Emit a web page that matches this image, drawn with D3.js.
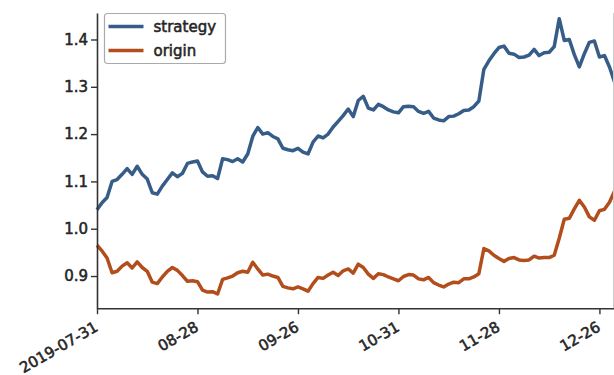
<!DOCTYPE html>
<html>
<head>
<meta charset="utf-8">
<script src="https://cdn.jsdelivr.net/npm/d3@7"></script>
<style>
  body { margin: 0; background: #fff; }
  text { font-family: "DejaVu Sans", sans-serif; fill: #262626; stroke: #262626; stroke-width: 0.55px; }
</style>
</head>
<body>
<div id="chart"></div>
<script>
// tick positions (trading day index) and their labels
var tickIndex = [0, 20, 40, 60, 80, 100];
var tickLabels = ["2019-07-31", "08-28", "09-26", "10-31", "11-28", "12-26"];
var yTicks = [0.9, 1.0, 1.1, 1.2, 1.3, 1.4];

var strategy = [
  1.040, 1.055, 1.066, 1.100, 1.104, 1.115, 1.127, 1.115, 1.132, 1.115,
  1.105, 1.076, 1.073, 1.090, 1.104, 1.118, 1.110, 1.117, 1.138, 1.141,
  1.143, 1.120, 1.111, 1.112, 1.106, 1.148, 1.146, 1.142, 1.148, 1.141,
  1.158, 1.195, 1.214, 1.200, 1.203, 1.195, 1.190, 1.170, 1.167, 1.165,
  1.170, 1.162, 1.158, 1.183, 1.196, 1.192, 1.200, 1.215, 1.227, 1.239,
  1.253, 1.237, 1.271, 1.280, 1.255, 1.251, 1.263, 1.258, 1.251, 1.247,
  1.245, 1.258, 1.259, 1.258, 1.248, 1.244, 1.248, 1.234, 1.230, 1.228,
  1.237, 1.238, 1.243, 1.250, 1.251, 1.258, 1.270, 1.337, 1.355, 1.370,
  1.383, 1.386, 1.371, 1.369, 1.362, 1.363, 1.367, 1.379, 1.366, 1.372,
  1.373, 1.385, 1.444, 1.398, 1.400, 1.368, 1.342, 1.370, 1.394, 1.397,
  1.363, 1.366, 1.342, 1.310
];

var origin = [
  0.965, 0.953, 0.938, 0.907, 0.910, 0.921, 0.928, 0.917, 0.930, 0.918,
  0.910, 0.887, 0.884, 0.898, 0.910, 0.918, 0.912, 0.901, 0.889, 0.890,
  0.888, 0.870, 0.866, 0.867, 0.862, 0.893, 0.896, 0.900, 0.907, 0.910,
  0.908, 0.929, 0.915, 0.902, 0.904, 0.900, 0.897, 0.878, 0.875, 0.873,
  0.877, 0.873, 0.868, 0.884, 0.897, 0.895, 0.902, 0.908, 0.901, 0.911,
  0.915, 0.906, 0.925, 0.918, 0.904, 0.895, 0.905, 0.903, 0.898, 0.894,
  0.890, 0.899, 0.903, 0.902, 0.894, 0.892, 0.897, 0.886, 0.881, 0.877,
  0.883, 0.887, 0.886, 0.894, 0.894, 0.898, 0.905, 0.958, 0.953, 0.944,
  0.937, 0.931, 0.937, 0.939, 0.934, 0.933, 0.934, 0.942, 0.938, 0.939,
  0.939, 0.944, 0.980, 1.020, 1.022, 1.042, 1.060, 1.046, 1.025, 1.018,
  1.038, 1.041, 1.056, 1.079
];

var svgWidth = 614;
var svgHeight = 375;

var margin = { top: 13, right: 0, bottom: 67, left: 97 };
var width = 517.5;
var height = 295.2;

var svg = d3.select("#chart")
  .append("svg")
  .attr("width", svgWidth)
  .attr("height", svgHeight);

var chartGroup = svg.append("g")
  .attr("transform", `translate(${margin.left}, ${margin.top})`);

// scales
var xScale = d3.scaleLinear()
  .domain([0, 103])
  .range([0, width]);

var yScale = d3.scaleLinear()
  .domain([0.832, 1.456])
  .range([height, 0]);

// lines
var line = d3.line()
  .x((d, i) => xScale(i))
  .y(d => yScale(d));

chartGroup.append("path")
  .datum(origin)
  .attr("fill", "none")
  .attr("stroke", "#b24d1c")
  .attr("stroke-width", 3.5)
  .attr("stroke-linejoin", "round")
  .attr("d", line);

chartGroup.append("path")
  .datum(strategy)
  .attr("fill", "none")
  .attr("stroke", "#365d88")
  .attr("stroke-width", 3.5)
  .attr("stroke-linejoin", "round")
  .attr("d", line);

// axes
var bottomAxis = d3.axisBottom(xScale)
  .tickValues(tickIndex)
  .tickFormat((d, i) => tickLabels[i])
  .tickSize(6)
  .tickSizeOuter(0);

var leftAxis = d3.axisLeft(yScale)
  .tickValues(yTicks)
  .tickFormat(d3.format(".1f"))
  .tickSize(6)
  .tickSizeOuter(0);

var xAxisG = chartGroup.append("g")
  .attr("transform", `translate(0, ${height})`)
  .call(bottomAxis);

xAxisG.selectAll("text")
  .attr("font-size", "15px")
  .attr("text-anchor", "end")
  .attr("dy", "0")
  .attr("transform", "translate(-3, 14) rotate(-30)");

var yAxisG = chartGroup.append("g")
  .call(leftAxis);

yAxisG.selectAll("text")
  .attr("font-size", "15px")
  .attr("x", -9);

chartGroup.selectAll(".domain")
  .attr("stroke", "#333")
  .attr("stroke-width", 1.6);
chartGroup.selectAll(".tick line")
  .attr("stroke", "#333")
  .attr("stroke-width", 1.4);
chartGroup.selectAll(".tick text")
  .attr("fill", "#262626")
  .attr("font-family", "DejaVu Sans");

// faint right edge
chartGroup.append("line")
  .attr("x1", width - 1).attr("x2", width - 1)
  .attr("y1", 0).attr("y2", height)
  .attr("stroke", "#ccc")
  .attr("stroke-width", 1);

// legend
var legend = svg.append("g")
  .attr("transform", "translate(104.5, 13.5)");

legend.append("rect")
  .attr("width", 121)
  .attr("height", 50)
  .attr("rx", 3)
  .attr("fill", "#fff")
  .attr("stroke", "#aaa")
  .attr("stroke-width", 1.2);

var legendItems = [
  { name: "strategy", color: "#365d88" },
  { name: "origin", color: "#b24d1c" }
];

legendItems.forEach(function(item, i) {
  legend.append("line")
    .attr("x1", 4).attr("x2", 39)
    .attr("y1", 13 + i * 24).attr("y2", 13 + i * 24)
    .attr("stroke", item.color)
    .attr("stroke-width", 3.5);
  legend.append("text")
    .attr("x", 49)
    .attr("y", 18 + i * 24)
    .attr("font-size", "15px")
    .text(item.name);
});
</script>
</body>
</html>
